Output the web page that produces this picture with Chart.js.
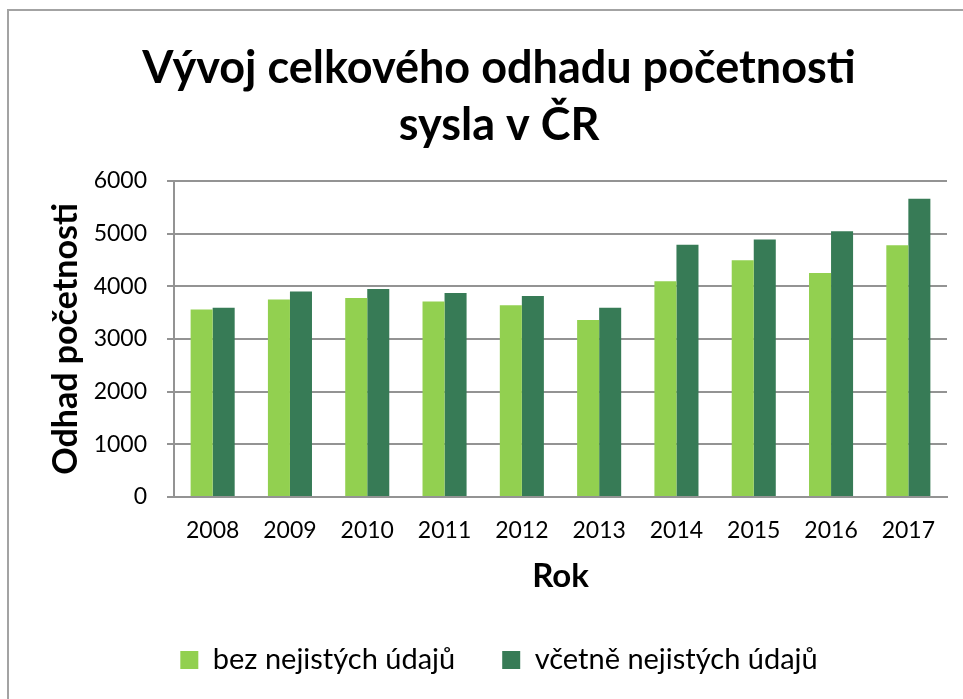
<!DOCTYPE html>
<html>
<head>
<meta charset="utf-8">
<script src="https://cdn.jsdelivr.net/npm/chart.js@4"></script>
<style>
  html, body { margin: 0; padding: 0; background: #ffffff; overflow: hidden; }
  #frame {
    position: absolute; left: 7px; top: 9px; right: -10px; bottom: -10px;
    border-left: 2px solid #a3a3a3; border-top: 2px solid #a3a3a3;
  }
  #wrap { position: absolute; left: 0; top: 0; width: 963px; height: 699px; }
</style>
</head>
<body>
<div id="frame"></div>
<div id="wrap"><canvas id="chart" width="963" height="699"></canvas></div>
<script>
// Roky sledování
const years = ['2008', '2009', '2010', '2011', '2012', '2013', '2014', '2015', '2016', '2017'];
// Odhad početnosti bez nejistých údajů
const bezNejistych = [3560, 3750, 3780, 3710, 3640, 3360, 4095, 4495, 4255, 4780];
// Odhad početnosti včetně nejistých údajů
const vcetneNejistych = [3595, 3900, 3950, 3875, 3815, 3595, 4790, 4890, 5045, 5665];
// Popisky osy Y
const yTicks = [0, 1000, 2000, 3000, 4000, 5000, 6000];

const FONT = 'Lato, "Open Sans", "Noto Sans", sans-serif';
const GRID = '#939393';

new Chart(document.getElementById('chart'), {
  type: 'bar',
  data: {
    labels: years,
    datasets: [
      { label: 'bez nejistých údajů', data: bezNejistych, backgroundColor: '#92D050',
        borderWidth: 0, categoryPercentage: 0.57, barPercentage: 1.0 },
      { label: 'včetně nejistých údajů', data: vcetneNejistych, backgroundColor: '#377B56',
        borderWidth: 0, categoryPercentage: 0.57, barPercentage: 1.0 }
    ]
  },
  options: {
    responsive: false,
    animation: false,
    layout: { padding: { left: 51, right: 16, top: 0, bottom: 14.5 } },
    plugins: {
      title: {
        display: true,
        text: ['Vývoj celkového odhadu početnosti', 'sysla v ČR'],
        color: '#000000',
        font: { family: FONT, size: 45, weight: 'bold', lineHeight: '57px' },
        padding: { top: 39.5, bottom: 27.5 }
      },
      legend: {
        position: 'bottom',
        labels: {
          color: '#000000',
          boxWidth: 18, boxHeight: 18,
          padding: 47,
          font: { family: FONT, size: 29 }
        }
      },
      tooltip: { enabled: false }
    },
    scales: {
      x: {
        afterFit: (s) => { s.height = 101.5; },
        grid: { display: false, drawTicks: false },
        border: { display: true, color: GRID, width: 2 },
        ticks: { color: '#000000', padding: 20, font: { family: FONT, size: 23 } },
        title: {
          display: true, text: 'Rok', color: '#000000',
          font: { family: FONT, size: 33, weight: 'bold', lineHeight: 1.2 },
          padding: { top: 0, bottom: 2.5 }
        }
      },
      y: {
        min: 0, max: 6000,
        afterFit: (s) => { s.width = 123; },
        afterBuildTicks: (s) => { s.ticks = yTicks.map(v => ({ value: v })); },
        grid: { color: GRID, lineWidth: 2, drawTicks: true, tickLength: 7 },
        border: { display: true, color: GRID, width: 2 },
        ticks: {
          color: '#000000', padding: 20, font: { family: FONT, size: 23 },
          callback: (v) => String(v)
        },
        title: {
          display: true, text: 'Odhad početnosti', color: '#000000',
          font: { family: FONT, size: 34, weight: 'bold', lineHeight: 1.2 },
          padding: { top: -5, bottom: 0 }
        }
      }
    }
  }
});
</script>
</body>
</html>
